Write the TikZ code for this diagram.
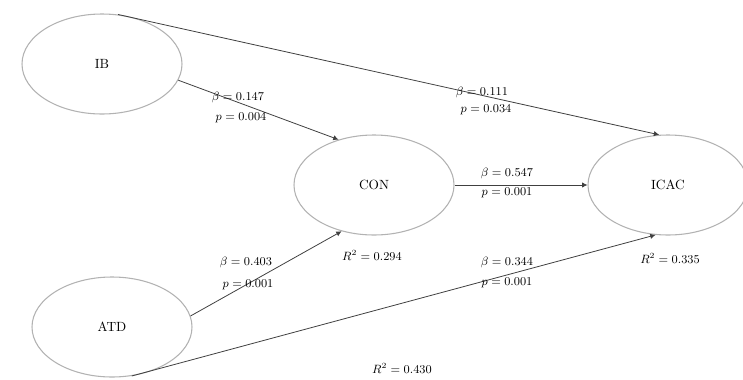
\documentclass[tikz,border=0pt]{standalone}
\usepackage{amsmath}
\usepackage{amssymb}
\usetikzlibrary{shapes.geometric,arrows.meta}

\begin{document}
\begin{tikzpicture}[x=0.75pt,y=-0.75pt,
  construct/.style={draw=black!30, thick, ellipse, minimum width=120pt, minimum height=75pt, font=\normalsize},
  path/.style={draw=black!75, semithick, -{Latex[length=4pt,width=4pt]}},
  coef/.style={font=\small, inner sep=1pt}]

\useasboundingbox (0,0) rectangle (743,379);

\node[construct] (ib) at (102,64) {IB};
\node[construct] (atd) at (112,327) {ATD};
\node[construct] (con) at (374,185) {CON};
\node[construct] (icac) at (668,185) {ICAC};

\draw[path] (ib.-12) -- (con.128);
\draw[path] (ib.72) -- (icac.100);
\draw[path] (con.east) -- (icac.west);
\draw[path] (atd.8) -- (con.-125);
\draw[path] (atd.-68) -- (icac.-104);

% path coefficients
\node[coef] (b1) at (238,97) {$\beta = 0.147$};
\node[coef] (p1) at (241,118) {$p = 0.004$};
\node[coef] (b2) at (482,92) {$\beta = 0.111$};
\node[coef] (p2) at (486,110) {$p = 0.034$};
\node[coef] (b3) at (507,173) {$\beta = 0.547$};
\node[coef] (p3) at (507,193) {$p = 0.001$};
\node[coef] (b4) at (246,262) {$\beta = 0.403$};
\node[coef] (p4) at (248,285) {$p = 0.001$};
\node[coef] (b5) at (507,262) {$\beta = 0.344$};
\node[coef] (p5) at (507,283) {$p = 0.001$};

% explained variance
\node[coef] (r1) at (372,255) {$R^2 = 0.294$};
\node[coef] (r2) at (670,258) {$R^2 = 0.335$};
\node[coef] (r3) at (402,368) {$R^2 = 0.430$};
\end{tikzpicture}
\end{document}
